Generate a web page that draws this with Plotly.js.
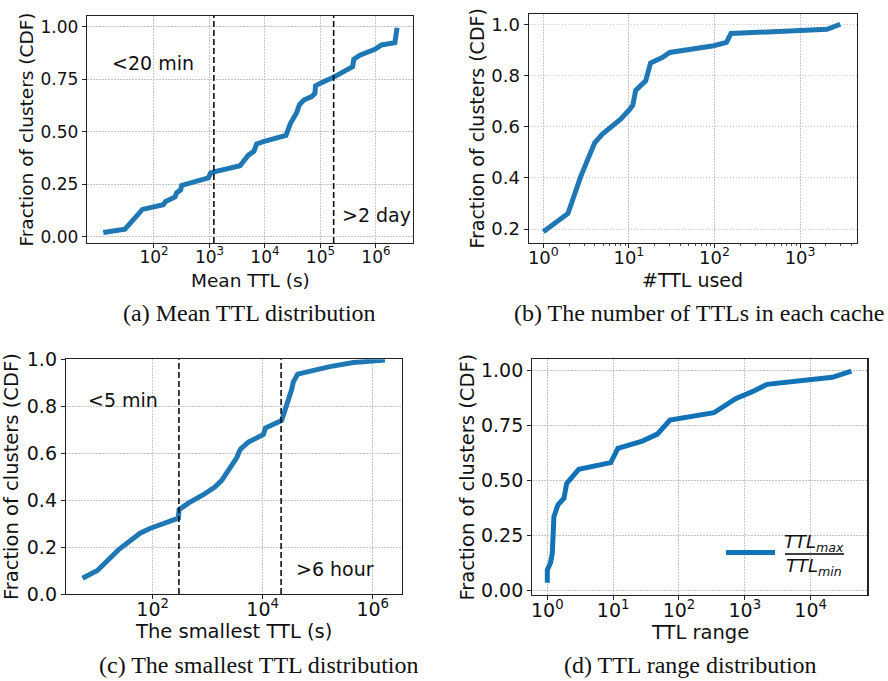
<!DOCTYPE html>
<html>
<head>
<meta charset="utf-8">
<script src="https://cdn.plot.ly/plotly-3.0.1.min.js"></script>
<style>html,body{margin:0;padding:0;background:#fff}#chart{width:888px;height:681px}</style>
</head>
<body>
<div id="chart"></div>
<script>
// (a) Mean TTL distribution
const meanTTL_x = [12.2, 30, 62, 147, 162, 239, 257, 302, 316, 953, 1047, 1259, 3548, 5012, 6310, 7080, 9330, 23880, 28840, 31600, 37150, 41700, 50100, 69200, 79400, 81300, 97700, 170000, 316000, 380000, 398000, 513000, 955000, 1260000, 2190000, 2400000];
const meanTTL_y = [0.02, 0.036, 0.13, 0.152, 0.168, 0.189, 0.21, 0.223, 0.244, 0.28, 0.303, 0.31, 0.338, 0.388, 0.406, 0.442, 0.453, 0.482, 0.54, 0.559, 0.59, 0.628, 0.651, 0.667, 0.683, 0.718, 0.73, 0.759, 0.794, 0.81, 0.845, 0.864, 0.892, 0.913, 0.924, 0.995];
const meanTTL_thresholds = [1200, 172800];
const meanTTL_labels = ["&lt;20 min", "&gt;2 day"];

// (b) The number of TTLs in each cache
const numTTL_x = [1.0, 1.94, 2.73, 3.98, 4.9, 6.7, 8.0, 10.0, 11.1, 12.0, 15.7, 17.9, 24.5, 30, 98, 138, 156, 2065, 2950];
const numTTL_y = [0.19, 0.261, 0.405, 0.537, 0.571, 0.606, 0.629, 0.664, 0.684, 0.742, 0.779, 0.849, 0.87, 0.89, 0.916, 0.929, 0.964, 0.98, 1.0];

// (c) The smallest TTL distribution
const minTTL_x = [5.3, 9.9, 23.8, 59, 89, 293, 301, 445, 832, 1350, 1800, 3365, 3765, 3980, 5500, 10300, 11200, 15600, 22100, 33700, 36000, 43200, 166000, 445000, 1670000];
const minTTL_y = [0.067, 0.1, 0.188, 0.259, 0.279, 0.323, 0.359, 0.387, 0.423, 0.456, 0.484, 0.58, 0.608, 0.618, 0.647, 0.68, 0.707, 0.722, 0.739, 0.872, 0.903, 0.937, 0.969, 0.986, 0.997];
const minTTL_thresholds = [300, 21600];
const minTTL_labels = ["&lt;5 min", "&gt;6 hour"];

// (d) TTL range distribution
const range_x = [1.0, 1.0, 1.12, 1.19, 1.26, 1.45, 1.79, 1.97, 3.0, 9.2, 11.8, 27.7, 46.9, 73, 339, 725, 1300, 2180, 21300, 41500];
const range_y = [0.036, 0.094, 0.127, 0.17, 0.336, 0.39, 0.42, 0.488, 0.552, 0.582, 0.647, 0.68, 0.712, 0.776, 0.809, 0.873, 0.905, 0.938, 0.97, 0.998];
const range_num = "<i>TTL<sub>max</sub></i>";
const range_den = "<i>TTL<sub>min</sub></i>";

// tick labels
const ticksA = [100, 1e3, 1e4, 1e5, 1e6];
const ticksA_text = ["10<sup>2</sup>", "10<sup>3</sup>", "10<sup>4</sup>", "10<sup>5</sup>", "10<sup>6</sup>"];
const ticksB = [1, 10, 100, 1000];
const ticksB_text = ["10<sup>0</sup>", "10<sup>1</sup>", "10<sup>2</sup>", "10<sup>3</sup>"];
const ticksC = [100, 1e4, 1e6];
const ticksC_text = ["10<sup>2</sup>", "10<sup>4</sup>", "10<sup>6</sup>"];
const ticksD = [1, 10, 100, 1000, 1e4];
const ticksD_text = ["10<sup>0</sup>", "10<sup>1</sup>", "10<sup>2</sup>", "10<sup>3</sup>", "10<sup>4</sup>"];

const captions = ["(a) Mean TTL distribution", "(b) The number of TTLs in each cache", "(c) The smallest TTL distribution", "(d) TTL range distribution"];
const xTitles = ["Mean TTL (s)", "#TTL used", "The smallest TTL (s)", "TTL range"];
const yTitle = "Fraction of clusters (CDF)";

const minorB = [];
[1, 10, 100, 1000].forEach(d => { for (let k = 2; k <= 9; k++) minorB.push(k * d); });

const blue = "#1f77b4";
const blueD = "#1172b6";
const FONT = "DejaVu Sans, sans-serif";
const W = 888, H = 681;
function xd(a, b) { return [a / W, b / W]; }
function yd(top, bot) { return [1 - bot / H, 1 - top / H]; }

function lineTrace(x, y, xa, ya, color) {
  return { x: x, y: y, xaxis: xa, yaxis: ya, type: "scatter", mode: "lines",
    line: { color: color, width: 5 }, showlegend: false, hoverinfo: "skip" };
}

const data = [
  lineTrace(meanTTL_x, meanTTL_y, "x", "y", blue),
  lineTrace(numTTL_x, numTTL_y, "x2", "y2", blue),
  lineTrace(minTTL_x, minTTL_y, "x3", "y3", blue),
  lineTrace(range_x, range_y, "x4", "y4", blueD)
];

function xaxis(domain, range, tv, tt, fs, anchor, minor, lso) {
  const ax = {
    domain: domain, type: "log", range: range, anchor: anchor,
    tickmode: "array", tickvals: tv, ticktext: tt,
    ticks: "outside", ticklen: 4, tickwidth: 1, tickcolor: "#222",
    ticklabelstandoff: lso,
    showline: true, mirror: true, linecolor: "#222", linewidth: 1.2,
    showgrid: true, gridcolor: "#b8b8b8", gridwidth: 0.8, griddash: "1.5px,1.5px",
    zeroline: false, tickfont: { family: FONT, size: fs, color: "#111" }
  };
  if (minor) ax.minor = { tickvals: minor, ticks: "outside", ticklen: 2.5, tickcolor: "#222", tickwidth: 0.8, showgrid: false };
  return ax;
}
function yaxis(domain, range, dtick, tick0, fmt, fs, tfs, anchor, standoff) {
  return {
    domain: domain, range: range, anchor: anchor,
    tickmode: "linear", dtick: dtick, tick0: tick0, tickformat: fmt,
    ticks: "outside", ticklen: 4, tickwidth: 1, tickcolor: "#222",
    showline: true, mirror: true, linecolor: "#222", linewidth: 1.2,
    showgrid: true, gridcolor: "#b8b8b8", gridwidth: 0.8, griddash: "1.5px,1.5px",
    zeroline: false, tickfont: { family: FONT, size: fs, color: "#111" },
    title: { text: yTitle, font: { family: FONT, size: tfs, color: "#111" }, standoff: standoff }
  };
}

const shapes = [];
meanTTL_thresholds.forEach(v => shapes.push({ type: "line", xref: "x", yref: "y domain", x0: v, x1: v, y0: 0, y1: 1, line: { color: "#111", width: 1.6, dash: "6px,3px" } }));
minTTL_thresholds.forEach(v => shapes.push({ type: "line", xref: "x3", yref: "y3 domain", x0: v, x1: v, y0: 0, y1: 1, line: { color: "#111", width: 1.6, dash: "6px,3px" } }));
// legend of panel (d): sample line and fraction bar
shapes.push({ type: "line", xref: "paper", yref: "paper", x0: 726 / W, x1: 775 / W, y0: 1 - 552.5 / H, y1: 1 - 552.5 / H, line: { color: blueD, width: 5 } });
shapes.push({ type: "line", xref: "paper", yref: "paper", x0: 785 / W, x1: 844 / W, y0: 1 - 554 / H, y1: 1 - 554 / H, line: { color: "#000", width: 1.5 } });

const annFont = { family: FONT, size: 19, color: "#111" };
const legFont = { family: FONT, size: 18, color: "#111" };
const annotations = [
  { xref: "x", yref: "y", x: Math.log10(95), y: 0.826, text: meanTTL_labels[0], showarrow: false, font: annFont },
  { xref: "x", yref: "y", x: Math.log10(1.02e6), y: 0.105, text: meanTTL_labels[1], showarrow: false, font: annFont },
  { xref: "x3", yref: "y3", x: Math.log10(29), y: 0.825, text: minTTL_labels[0], showarrow: false, font: annFont },
  { xref: "x3", yref: "y3", x: Math.log10(2.07e5), y: 0.105, text: minTTL_labels[1], showarrow: false, font: annFont },
  { xref: "paper", yref: "paper", x: 814 / W, y: 1 - 543 / H, text: range_num, showarrow: false, font: legFont, xanchor: "center", yanchor: "middle" },
  { xref: "paper", yref: "paper", x: 814 / W, y: 1 - 567 / H, text: range_den, showarrow: false, font: legFont, xanchor: "center", yanchor: "middle" }
];
// x-axis titles
const xTitleSpec = [["x domain", 280, 18.5], ["x2 domain", 280, 19], ["x3 domain", 631, 19.5], ["x4 domain", 632, 19.5]];
xTitles.forEach((t, i) => annotations.push({ xref: xTitleSpec[i][0], yref: "paper", x: 0.5, y: 1 - xTitleSpec[i][1] / H, text: t, showarrow: false,
  font: { family: FONT, size: xTitleSpec[i][2], color: "#111" }, xanchor: "center", yanchor: "middle" }));

const capFont = { family: "Liberation Serif, serif", size: 24, color: "#111" };
const capPos = [[249, 313], [699, 313], [259, 665], [690, 665]];
captions.forEach((c, i) => annotations.push({ xref: "paper", yref: "paper", x: capPos[i][0] / W, y: 1 - capPos[i][1] / H, text: c, showarrow: false, font: capFont, xanchor: "center", yanchor: "middle" }));

const layout = {
  width: W, height: H, margin: { l: 0, r: 0, t: 0, b: 0 },
  paper_bgcolor: "#fff", plot_bgcolor: "#fff",
  showlegend: false,
  xaxis: xaxis(xd(87, 413), [0.793, 6.667], ticksA, ticksA_text, 17, "y", null, -6),
  yaxis: yaxis(yd(16, 243), [-0.030, 1.051], 0.25, 0, ".2f", 17, 18.5, "x", 2),
  xaxis2: xaxis(xd(528.7, 857), [-0.171, 3.665], ticksB, ticksB_text, 18, "y2", minorB, -6),
  yaxis2: yaxis(yd(14, 242.7), [0.147, 1.04], 0.2, 0, ".1f", 18, 19, "x2", 1),
  xaxis3: xaxis(xd(66, 401.7), [0.424, 6.527], ticksC, ticksC_text, 19, "y3", null, -6),
  yaxis3: yaxis(yd(359.3, 594), [0, 1], 0.2, 0, ".1f", 19, 19.5, "x3", 3),
  xaxis4: xaxis(xd(532.3, 867.3), [-0.228, 4.86], ticksD, ticksD_text, 19, "y4", null, -6),
  yaxis4: yaxis(yd(359.3, 595), [-0.0197, 1.052], 0.25, 0, ".2f", 19, 19.5, "x4", 1),
  shapes: shapes, annotations: annotations
};

Plotly.newPlot("chart", data, layout, { staticPlot: true, displayModeBar: false });
</script>
</body>
</html>
